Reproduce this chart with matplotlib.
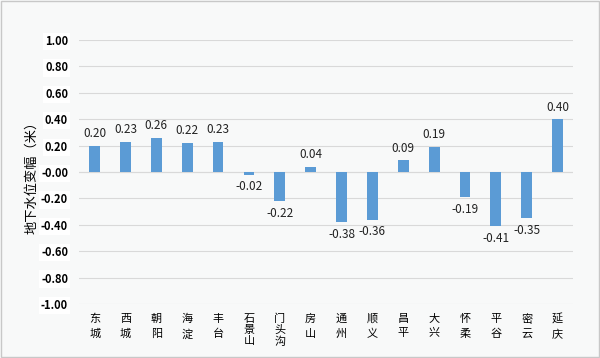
import numpy as np
import matplotlib
matplotlib.use("Agg")
import matplotlib.pyplot as plt

plt.rcParams['font.family'] = ['Noto Sans CJK SC', 'DejaVu Sans']

# ---------- data ----------
districts = ["东城", "西城", "朝阳", "海淀", "丰台", "石景山", "门头沟", "房山", "通州",
             "顺义", "昌平", "大兴", "怀柔", "平谷", "密云", "延庆"]
changes = [0.20, 0.23, 0.26, 0.22, 0.23, -0.02, -0.22, 0.04, -0.38,
           -0.36, 0.09, 0.19, -0.19, -0.41, -0.35, 0.40]
yticks = np.arange(-1.0, 1.01, 0.2)

bar_color = "#5B9BD5"
bg = "#F8F9F9"

fig = plt.figure(figsize=(6.0, 3.58), dpi=100, facecolor=bg)
fig.patches.append(plt.Rectangle((0.002, 0.003), 0.996, 0.994, transform=fig.transFigure,
                                 fill=False, edgecolor="#C8C8C8", linewidth=1.0))
ax = fig.add_axes([0.132, 0.151, 0.823, 0.737])
ax.set_facecolor(bg)

x = np.arange(len(districts))
ax.bar(x, changes, width=0.35, color=bar_color, zorder=3)

# value labels
for xi, v in zip(x, changes):
    if v >= 0:
        ax.annotate(f"{v:.2f}", (xi, v), xytext=(0, 4), textcoords="offset points",
                    ha="center", va="bottom", fontsize=8.5, color="#222222")
    else:
        ax.annotate(f"{v:.2f}", (xi, v), xytext=(0, -4), textcoords="offset points",
                    ha="center", va="top", fontsize=8.5, color="#222222")

ax.set_xlim(-0.5, len(districts) - 0.5)
ax.set_ylim(-1.0, 1.0)
ax.set_yticks(yticks)
ax.set_yticklabels([f"{t:.2f}" for t in yticks], fontsize=8, fontweight="bold")
for lbl in ax.get_yticklabels():
    lbl.set_bbox(dict(facecolor="white", edgecolor="none", pad=1.5))
ax.grid(axis="y", color="#D9D9D9", linewidth=0.8, zorder=0)
ax.axhline(0, color="#D9D9D9", linewidth=0.8, zorder=1)
ax.tick_params(axis="y", length=0, pad=8)
ax.tick_params(axis="x", length=0, pad=7)
for s in ax.spines.values():
    s.set_visible(False)

# vertical district names (stacked characters)
ax.set_xticks(x)
ax.set_xticklabels(["\n".join(d) for d in districts], fontsize=8, va="top")
for lbl, d in zip(ax.get_xticklabels(), districts):
    lbl.set_linespacing(1.6 if len(d) == 2 else 1.12)

ax.set_ylabel("地下水位变幅（米）", fontsize=9.5)
ax.yaxis.set_label_coords(-0.082, 0.49)

fig.savefig("out.png", dpi=100, facecolor=bg)
